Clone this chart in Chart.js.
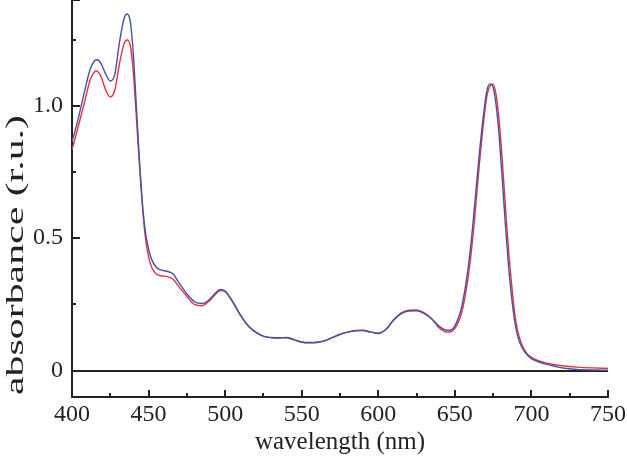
<!DOCTYPE html>
<html>
<head>
<meta charset="utf-8">
<script src="https://cdn.jsdelivr.net/npm/chart.js@4/dist/chart.umd.min.js"></script>
<style>
html,body{margin:0;padding:0;background:#fff;}
#wrap{width:627px;height:459px;position:relative;}
</style>
</head>
<body>
<div id="wrap"><canvas id="c" width="627" height="459"></canvas></div>
<script>
// wavelengths (nm) and absorbance values
const wlBlue = [400,404,408,412,416,419,422,425,428,431,434,436,438,440,442,444,446,448,450,452,455,458,462,466,470,475,480,485,490,494,497,500,505,510,515,520,525,530,535,540,545,550,555,560,565,570,575,580,585,590,595,600,605,610,615,620,625,630,635,640,645,648,651,654,657,660,663,666,669,671,673,675,677,679,681,683,685,687,689,691,694,697,700,705,710,715,720,730,740,750];
const absBlue = [0.864,0.95,1.05,1.14,1.174,1.16,1.12,1.094,1.12,1.24,1.33,1.347,1.32,1.20,1.00,0.80,0.63,0.52,0.46,0.42,0.39,0.38,0.375,0.365,0.33,0.29,0.26,0.253,0.27,0.295,0.306,0.30,0.26,0.21,0.17,0.145,0.13,0.125,0.124,0.125,0.117,0.108,0.106,0.107,0.113,0.125,0.137,0.145,0.15,0.151,0.145,0.14,0.155,0.19,0.215,0.225,0.226,0.215,0.195,0.166,0.152,0.155,0.18,0.23,0.32,0.45,0.63,0.82,0.98,1.06,1.083,1.07,1.00,0.88,0.72,0.55,0.40,0.28,0.19,0.13,0.085,0.06,0.045,0.032,0.023,0.016,0.01,0.004,0.002,0.001];

const wlRed = [400,404,408,412,416,419,422,425,428,431,434,436,438,440,442,444,446,448,450,452,455,458,462,466,470,475,480,485,490,494,497,500,505,510,515,520,525,530,535,540,545,550,555,560,565,570,575,580,585,590,595,600,605,610,615,620,625,630,635,640,645,648,651,654,657,660,663,666,669,671,673,675,677,679,681,683,685,687,689,691,694,697,700,705,710,715,720,730,740,750];
const absRed = [0.834,0.92,1.01,1.10,1.132,1.11,1.06,1.034,1.06,1.16,1.235,1.249,1.23,1.13,0.96,0.78,0.62,0.50,0.43,0.39,0.365,0.358,0.355,0.345,0.315,0.28,0.25,0.245,0.265,0.29,0.302,0.298,0.258,0.208,0.168,0.144,0.129,0.124,0.123,0.124,0.116,0.107,0.105,0.106,0.112,0.124,0.136,0.145,0.151,0.152,0.146,0.141,0.156,0.192,0.218,0.228,0.229,0.218,0.195,0.16,0.145,0.148,0.168,0.21,0.29,0.41,0.58,0.78,0.95,1.04,1.075,1.082,1.04,0.94,0.79,0.62,0.46,0.33,0.22,0.15,0.095,0.065,0.05,0.036,0.028,0.022,0.018,0.013,0.01,0.008];

const xTicks = [400,450,500,550,600,650,700,750];
const yTicks = [0,0.5,1.0];
const yTickLabels = ['0','0.5','1.0'];
const yTitle = 'absorbance (r.u.)';
const xTitle = 'wavelength (nm)';

const toPts = (xs, ys) => xs.map((x,i)=>({x:x, y:ys[i]}));

const tickPlugin = {
  id:'innerTicks',
  afterDraw(chart){
    const ctx = chart.ctx, a = chart.chartArea;
    const xs = chart.scales.x, ys = chart.scales.y;
    ctx.save();
    ctx.strokeStyle = '#222';
    ctx.lineWidth = 2;
    ctx.beginPath();
    for (let v = 400; v <= 750; v += 25){
      const px = Math.round(xs.getPixelForValue(v));
      const len = (v % 50 === 0) ? 7 : 4;
      ctx.moveTo(px, a.bottom); ctx.lineTo(px, a.bottom - len);
    }
    [0,0.25,0.5,0.75,1.0,1.25,1.4].forEach(v=>{
      const py = Math.round(ys.getPixelForValue(v));
      const major = Math.abs(v*2 - Math.round(v*2))<1e-9 || v===1.4;
      ctx.moveTo(a.left, py); ctx.lineTo(a.left + (major ? 8 : 4), py);
    });
    ctx.stroke();
    // y-axis title (stretched along its length like the reference)
    ctx.font = '25px "Liberation Serif"';
    ctx.fillStyle = '#222';
    ctx.textAlign = 'center';
    ctx.textBaseline = 'middle';
    const w = ctx.measureText(yTitle).width;
    const target = 280;
    ctx.translate(16, 255);
    ctx.rotate(-Math.PI/2);
    ctx.scale(target / w, 1);
    ctx.fillText(yTitle, 0, 0);
    ctx.restore();
  }
};

new Chart(document.getElementById('c'), {
  type:'line',
  data:{
    datasets:[
      {label:'blue', data:toPts(wlBlue,absBlue), borderColor:'#4352a6', borderWidth:1.4, pointRadius:0, cubicInterpolationMode:'monotone', fill:false},
      {label:'red', data:toPts(wlRed,absRed), borderColor:'#e6303c', borderWidth:1.4, pointRadius:0, cubicInterpolationMode:'monotone', fill:false}
    ]
  },
  options:{
    responsive:false,
    animation:false,
    layout:{padding:{top:0,right:19,left:0,bottom:0}},
    plugins:{legend:{display:false},tooltip:{enabled:false}},
    scales:{
      x:{
        type:'linear', min:400, max:750,
        afterBuildTicks(s){ s.ticks = xTicks.map(v=>({value:v})); },
        afterFit(s){ s.height = 62; s.paddingLeft = 0; s.paddingRight = 0; },
        ticks:{color:'#222', font:{family:'Liberation Serif', size:24}, padding:3, maxRotation:0},
        grid:{display:false, drawTicks:false},
        border:{display:true, color:'#222', width:2},
        title:{display:true, text:xTitle, color:'#222', font:{family:'Liberation Serif', size:25}, padding:{top:0,bottom:2}}
      },
      y:{
        type:'linear', min:-0.1, max:1.4,
        afterBuildTicks(s){ s.ticks = yTicks.map(v=>({value:v})); },
        afterFit(s){ s.width = 72; s.paddingTop = 0; s.paddingBottom = 0; },
        ticks:{color:'#222', font:{family:'Liberation Serif', size:24}, padding:9,
          callback:(v)=>{ const i = yTicks.indexOf(v); return i>=0 ? yTickLabels[i] : ''; }},
        grid:{drawTicks:false, lineWidth:2, color:(c)=> (c.tick && c.tick.value===0) ? '#222' : 'rgba(0,0,0,0)'},
        border:{display:true, color:'#222', width:2},
        title:{display:false}
      }
    }
  },
  plugins:[tickPlugin]
});
</script>
</body>
</html>
